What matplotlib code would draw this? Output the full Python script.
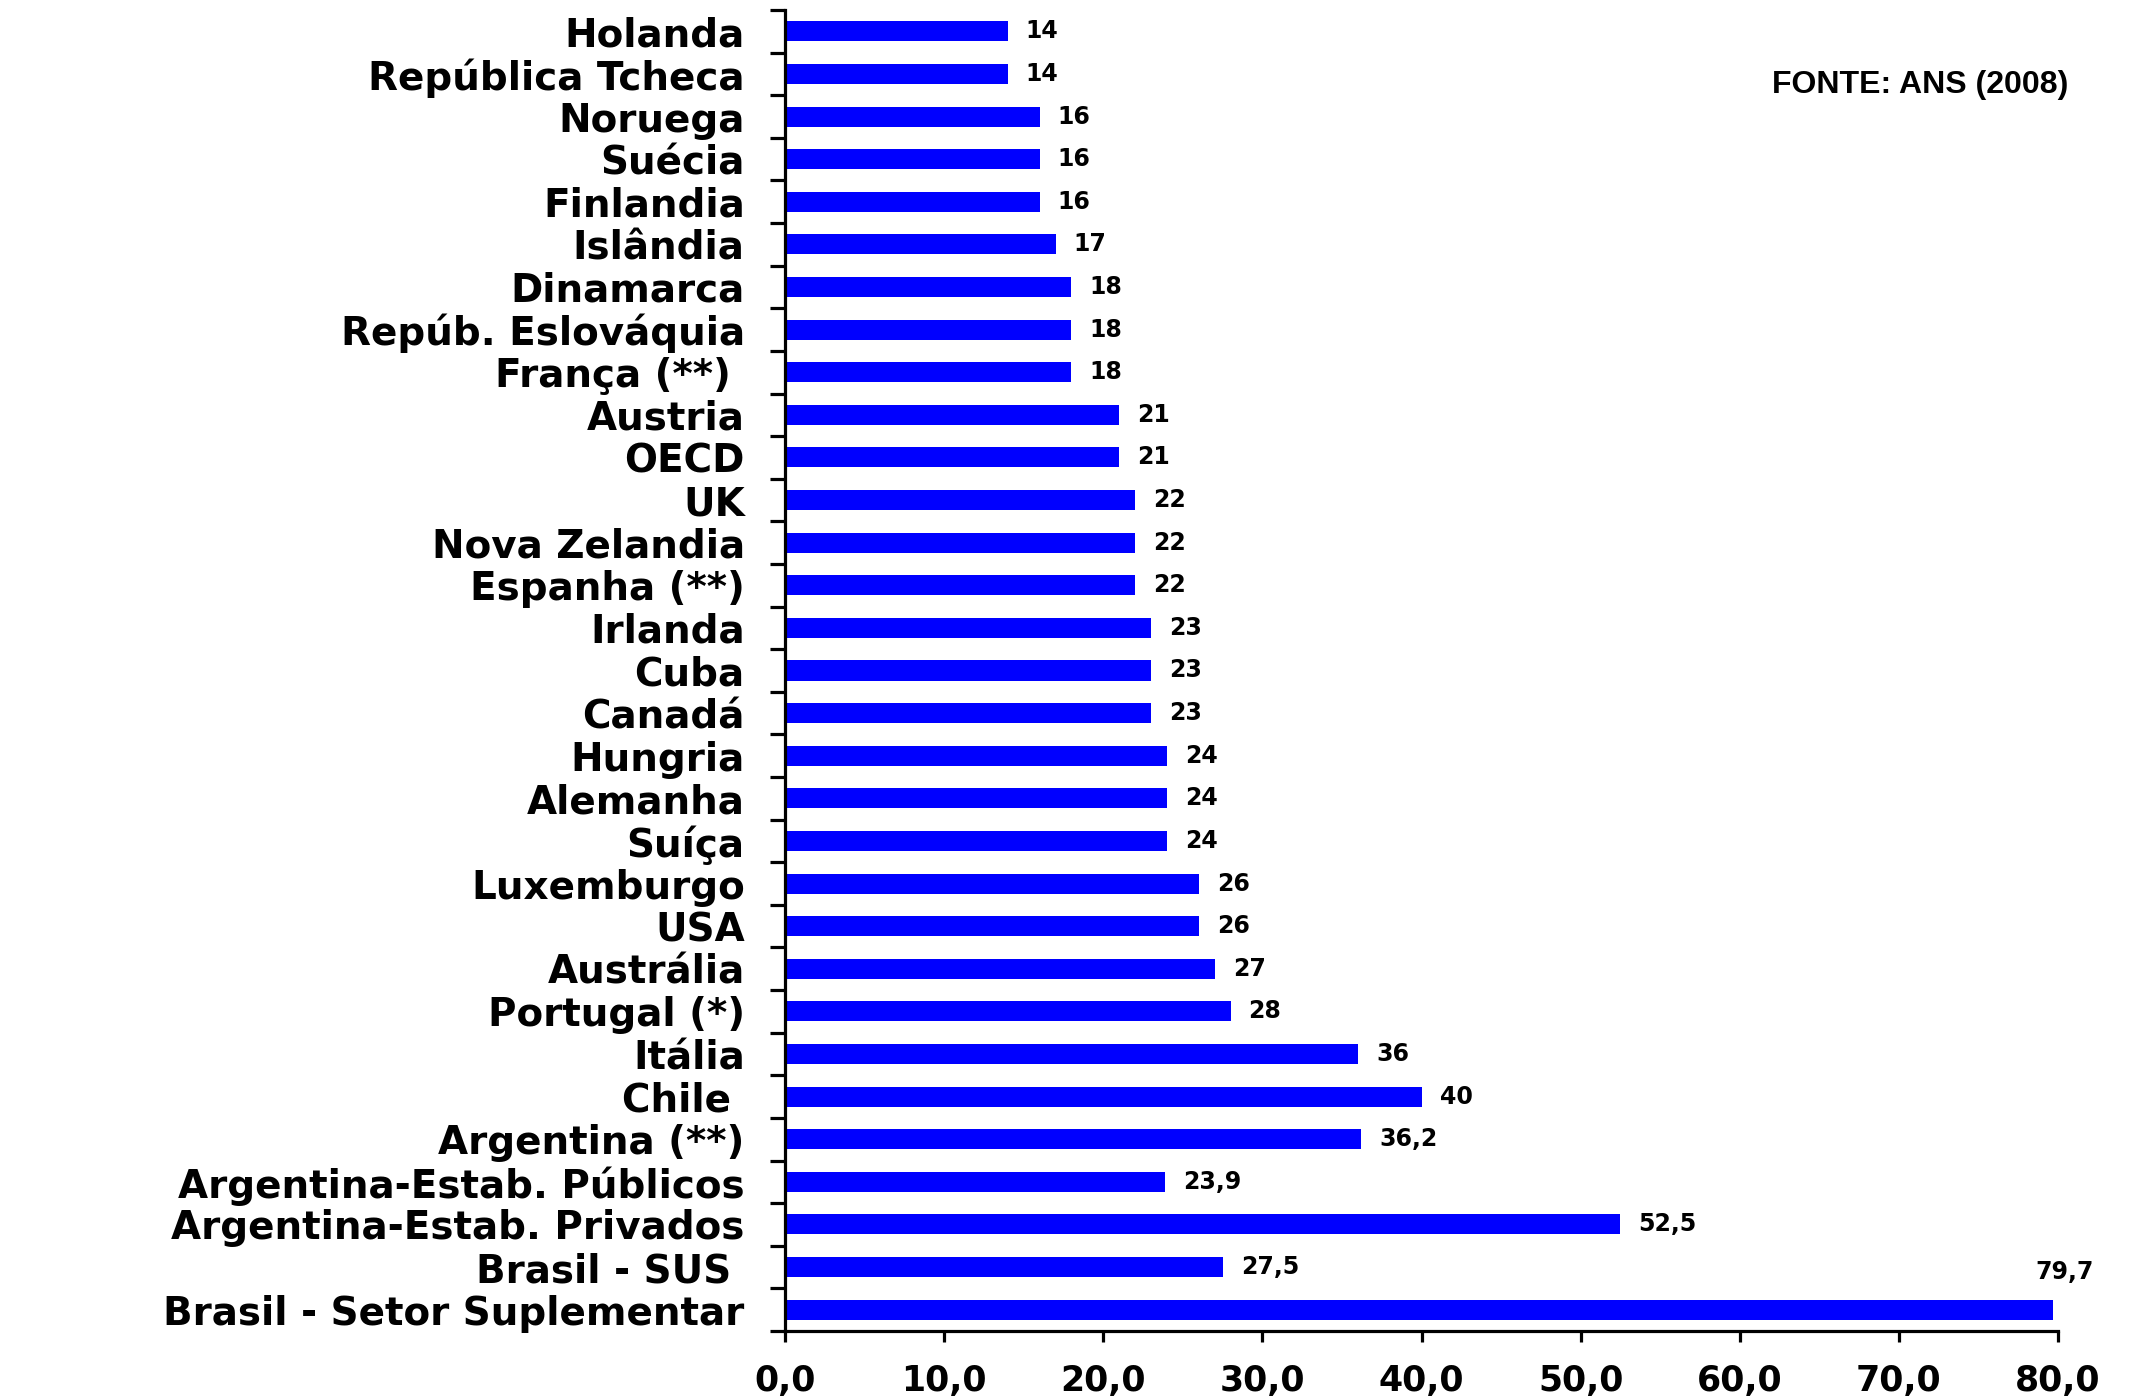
import matplotlib
matplotlib.use("Agg")
import matplotlib.pyplot as plt
from matplotlib.ticker import FixedLocator

categories = [
    "Holanda", "República Tcheca", "Noruega", "Suécia", "Finlandia",
    "Islândia", "Dinamarca", "Repúb. Eslováquia", "França (**) ", "Austria",
    "OECD", "UK", "Nova Zelandia", "Espanha (**)", "Irlanda", "Cuba",
    "Canadá", "Hungria", "Alemanha", "Suíça", "Luxemburgo", "USA",
    "Austrália", "Portugal (*)", "Itália", "Chile ", "Argentina (**)",
    "Argentina-Estab. Públicos", "Argentina-Estab. Privados",
    "Brasil - SUS ", "Brasil - Setor Suplementar",
]
values = [
    14, 14, 16, 16, 16, 17, 18, 18, 18, 21, 21, 22, 22, 22, 23, 23, 23,
    24, 24, 24, 26, 26, 27, 28, 36, 40, 36.2, 23.9, 52.5, 27.5, 79.7,
]
value_labels = [
    "14", "14", "16", "16", "16", "17", "18", "18", "18", "21", "21", "22",
    "22", "22", "23", "23", "23", "24", "24", "24", "26", "26", "27", "28",
    "36", "40", "36,2", "23,9", "52,5", "27,5", "79,7",
]
x_ticks = [0, 10, 20, 30, 40, 50, 60, 70, 80]
x_tick_labels = ["0,0", "10,0", "20,0", "30,0", "40,0", "50,0", "60,0", "70,0", "80,0"]
source_note = "FONTE: ANS (2008)"

W, H, DPI = 2136, 1399, 100
fig = plt.figure(figsize=(W / DPI, H / DPI), dpi=DPI)
ax = fig.add_axes([785 / W, 1 - 1331 / H, (2058 - 785) / W, (1331 - 10) / H])

pos = list(range(len(categories)))
ax.barh(pos, values, height=0.47, color="#0000FF", edgecolor="none")

ax.set_xlim(0, 80)
ax.set_ylim(len(categories) - 0.5, -0.5)

# category names sit at bar centres; tick marks sit between bars
ax.set_yticks(pos)
ax.set_yticklabels(categories, fontsize=28, fontweight="bold",
                   family="DejaVu Sans")
ax.tick_params(axis="y", which="major", length=0, pad=29)
ax.yaxis.set_minor_locator(FixedLocator([p - 0.5 for p in pos] + [len(pos) - 0.5]))
ax.tick_params(axis="y", which="minor", length=11, width=2.3, direction="out")

ax.set_xticks(x_ticks)
ax.set_xticklabels(x_tick_labels, fontsize=25, fontweight="bold",
                   family="DejaVu Sans")
ax.tick_params(axis="x", length=8, width=2.3, direction="out", pad=16)

for side in ("top", "right"):
    ax.spines[side].set_visible(False)
for side in ("left", "bottom"):
    ax.spines[side].set_linewidth(2.3)

for p, v, lab in zip(pos, values, value_labels):
    if v > 75:
        # the longest bar reaches the axis end, so its label sits above it
        ax.annotate(lab, xy=(v, p), xytext=(8, 27), textcoords="offset points",
                    ha="center", va="center", fontsize=17, fontweight="bold",
                    family="DejaVu Sans")
    else:
        ax.annotate(lab, xy=(v, p), xytext=(13, 0), textcoords="offset points",
                    ha="left", va="center", fontsize=17, fontweight="bold",
                    family="DejaVu Sans")

fig.text(2068 / W, 1 - 85 / H, source_note, ha="right", va="center",
         fontsize=23, fontweight="bold", family="Liberation Sans")

fig.savefig("out.png", dpi=DPI, facecolor="white")
